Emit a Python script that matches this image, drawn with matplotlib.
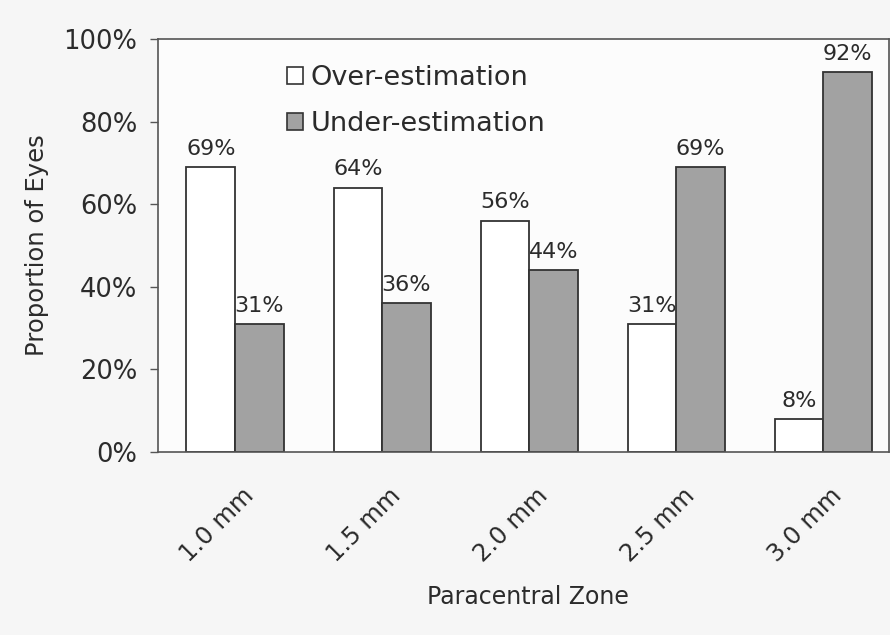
import numpy as np
import matplotlib
matplotlib.use("Agg")
import matplotlib.pyplot as plt
import matplotlib.transforms as mtransforms
from matplotlib.patches import Patch

# data
zones = ["1.0 mm", "1.5 mm", "2.0 mm", "2.5 mm", "3.0 mm"]
over_est = [69, 64, 56, 31, 8]
under_est = [31, 36, 44, 69, 92]
y_ticks = [0, 20, 40, 60, 80, 100]

text_col = "#2b2b2b"
axis_col = "#555555"
edge_col = "#333333"
fill_white = "#ffffff"
fill_gray = "#a2a2a2"

plt.rcParams["font.family"] = ["DejaVu Sans"]

fig = plt.figure(figsize=(8.9, 6.35), dpi=100, facecolor="#f6f6f6")
ax = fig.add_axes([0.1775, 0.288, 0.8215, 0.6506])
ax.set_facecolor("#fcfcfc")

x = np.arange(len(zones))
w = 0.33
b1 = ax.bar(x - w / 2, over_est, width=w, color=fill_white, edgecolor=edge_col, linewidth=1.3)
b2 = ax.bar(x + w / 2, under_est, width=w, color=fill_gray, edgecolor=edge_col, linewidth=1.3)

# value labels above bars
for bars, vals in ((b1, over_est), (b2, under_est)):
    for r, v in zip(bars, vals):
        ax.annotate(f"{v}%", (r.get_x() + r.get_width() / 2, v),
                    xytext=(0, 9), textcoords="offset points",
                    ha="center", va="baseline", fontsize=16, color=text_col)

ax.set_xlim(-0.524, 4.449)
ax.set_ylim(0, 100)
ax.set_yticks(y_ticks)
ax.set_yticklabels([f"{t}%" for t in y_ticks], fontsize=18.5, color=text_col)
ax.tick_params(axis="y", direction="out", length=6, width=1, color=axis_col, pad=9)

ax.set_xticks(x)
ax.set_xticklabels(zones, fontsize=17.5, color=text_col)
ax.tick_params(axis="x", length=0, pad=29)
shift = mtransforms.ScaledTranslation(15 / 100, 0, fig.dpi_scale_trans)
for lbl in ax.get_xticklabels():
    lbl.set_rotation(45)
    lbl.set_ha("right")
    lbl.set_va("center")
    lbl.set_rotation_mode("anchor")
    lbl.set_transform(lbl.get_transform() + shift)

for s in ax.spines.values():
    s.set_color(axis_col)
    s.set_linewidth(1.2)

ax.set_ylabel("Proportion of Eyes", fontsize=17.5, color=text_col)
ax.yaxis.set_label_coords(-0.166, 0.5)
ax.yaxis.label.set_va("center")
ax.set_xlabel("Paracentral Zone", fontsize=17, color=text_col)
ax.xaxis.set_label_coords(0.506, -0.351)
ax.xaxis.label.set_va("center")

handles = [Patch(facecolor=fill_white, edgecolor=edge_col, linewidth=1.2),
           Patch(facecolor=fill_gray, edgecolor=edge_col, linewidth=1.2)]
ax.legend(handles, ["Over-estimation", "Under-estimation"], loc="upper left",
          bbox_to_anchor=(0.143, 0.995), frameon=False, fontsize=19.5,
          handlelength=0.58, handleheight=0.58, handletextpad=0.3,
          labelspacing=0.72, labelcolor=text_col)

fig.savefig("out.png", dpi=100, facecolor=fig.get_facecolor())
